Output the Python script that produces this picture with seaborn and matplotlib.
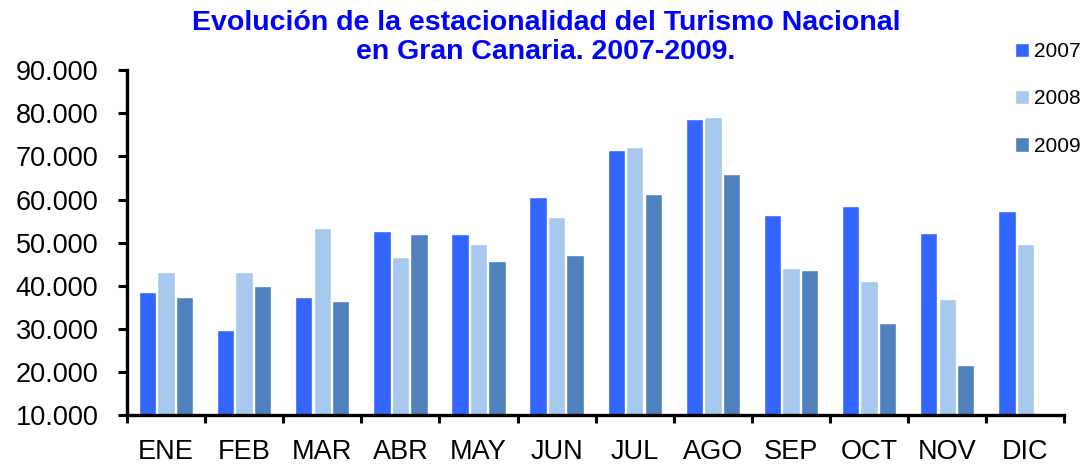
import matplotlib
matplotlib.use("Agg")
import matplotlib.pyplot as plt
from matplotlib.ticker import FuncFormatter
import numpy as np
import pandas as pd
import seaborn as sns

sns.set_theme(style="white")
plt.rcParams['font.family'] = ['Liberation Sans', 'DejaVu Sans']

meses = ['ENE', 'FEB', 'MAR', 'ABR', 'MAY', 'JUN', 'JUL', 'AGO', 'SEP', 'OCT', 'NOV', 'DIC']
v2007 = [38600, 29800, 37400, 52800, 51900, 60500, 71400, 78600, 56500, 58400, 52300, 57400]
v2008 = [43300, 43300, 53300, 46700, 49800, 56000, 72300, 79100, 44200, 41200, 37000, 49800]
v2009 = [37400, 40000, 36500, 51900, 45800, 47200, 61200, 66000, 43700, 31400, 21600, np.nan]
years = ['2007', '2008', '2009']
colors = ['#3366FF', '#A7C9EE', '#4F81BD']

df = pd.DataFrame({'mes': meses * 3,
                   'anio': np.repeat(years, len(meses)),
                   'turistas': v2007 + v2008 + v2009})

fig = plt.figure(figsize=(10.85, 4.68), dpi=100)
ax = fig.add_axes([0.117, 0.113, 0.864, 0.737])

sns.barplot(data=df, x='mes', y='turistas', hue='anio', palette=colors,
            width=0.71, gap=0.06, saturation=1, ax=ax, legend=True)

ax.set_ylim(10000, 90000)
ax.set_xlim(-0.5, 11.5)
ax.set_yticks(range(10000, 90001, 10000))
ax.yaxis.set_major_formatter(FuncFormatter(lambda v, p: f"{int(v):,}".replace(',', '.')))
ax.set_xlabel('')
ax.set_ylabel('')

sns.despine(ax=ax, top=True, right=True)
for s in ['left', 'bottom']:
    ax.spines[s].set_linewidth(2.4)
    ax.spines[s].set_color('black')

ax.tick_params(axis='y', which='major', left=True, length=6.5, width=2.2, labelsize=19.5,
               pad=14, color='black', labelcolor='black')
ax.tick_params(axis='x', which='major', bottom=False, labelsize=19.5, pad=11.5, labelcolor='black')
ax.set_xticks(np.arange(-0.5, 12, 1), minor=True)
ax.tick_params(axis='x', which='minor', bottom=True, length=6, width=2.2, color='black')

fig.text(0.503, 0.978, 'Evolución de la estacionalidad del Turismo Nacional\nen Gran Canaria. 2007-2009.',
         ha='center', va='top', color='#0000FF', fontsize=20.5, fontweight='bold',
         linespacing=1.12)

leg = ax.legend(loc='upper left', bbox_to_anchor=(0.938, 1.105), frameon=False,
                fontsize=15, handlelength=0.7, handleheight=0.7, handletextpad=0.25,
                labelspacing=1.35, borderaxespad=0)
for t in leg.get_texts():
    t.set_color('black')

fig.savefig('out.png', dpi=100)
